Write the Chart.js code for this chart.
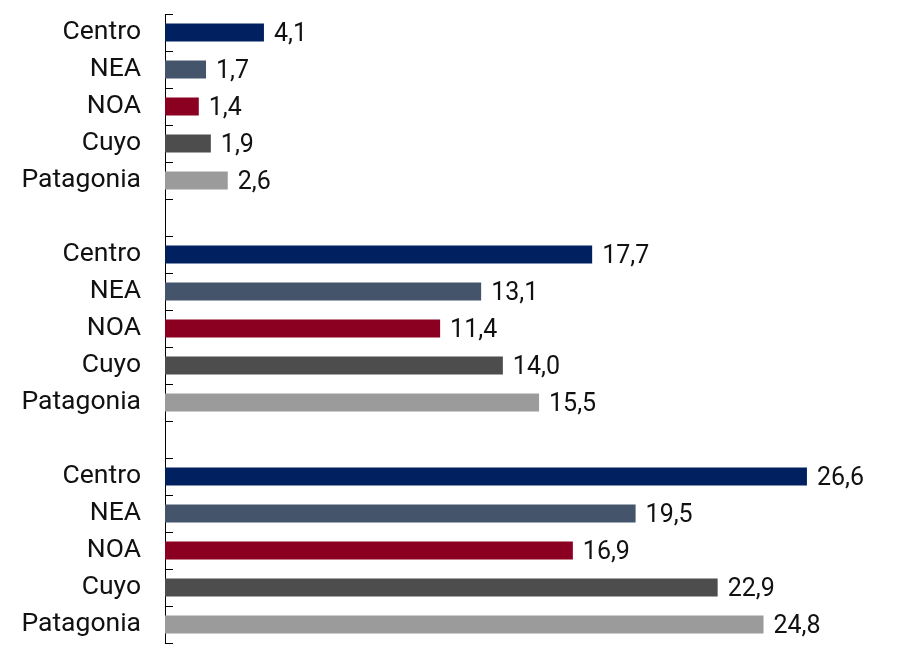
<!DOCTYPE html>
<html>
<head>
<meta charset="utf-8">
<script src="https://cdn.jsdelivr.net/npm/chart.js@4"></script>
<style>
  html, body { margin: 0; padding: 0; background: #fff; }
  #wrap { width: 909px; height: 659px; }
</style>
</head>
<body>
<div id="wrap"><canvas id="myChart"></canvas></div>
<script>
// regions repeated in each block, blank row between blocks
const regions = ['Centro', 'NEA', 'NOA', 'Cuyo', 'Patagonia'];
const regionColors = ['#002060', '#44546A', '#8B0020', '#4D4D4D', '#9B9B9B'];
const block1 = [4.1, 1.7, 1.4, 1.9, 2.6];
const block2 = [17.7, 13.1, 11.4, 14.0, 15.5];
const block3 = [26.6, 19.5, 16.9, 22.9, 24.8];
const xMax = 30;

let labels = [];
let values = [];
let colors = [];
[block1, block2, block3].forEach((block, b) => {
    if (b > 0) {
        labels.push('');
        values.push(null);
        colors.push('rgba(0,0,0,0)');
    }
    block.forEach((v, i) => {
        labels.push(regions[i]);
        values.push(v);
        colors.push(regionColors[i]);
    });
});

const fontFamily = 'Roboto, "Noto Sans", sans-serif';

// value labels at the end of each bar
const valueLabels = {
    id: 'valueLabels',
    afterDatasetsDraw(chart) {
        const ctx = chart.ctx;
        const meta = chart.getDatasetMeta(0);
        ctx.save();
        ctx.font = '25px ' + fontFamily;
        ctx.fillStyle = '#111';
        ctx.textAlign = 'left';
        ctx.textBaseline = 'middle';
        meta.data.forEach((bar, i) => {
            const v = values[i];
            if (v === null) return;
            ctx.fillText(v.toFixed(1).replace('.', ','), bar.x + 10, bar.y + 2);
        });
        ctx.restore();
    }
};

let ctx = document.getElementById('myChart').getContext('2d');
let myChart = new Chart(ctx, {
    type: 'bar',
    data: {
        labels: labels,
        datasets: [{
            data: values,
            backgroundColor: colors,
            barPercentage: 0.49,
            categoryPercentage: 1.0
        }]
    },
    options: {
        indexAxis: 'y',
        responsive: true,
        maintainAspectRatio: false,
        animation: false,
        layout: { padding: { top: 14, bottom: 16, left: 0, right: 20 } },
        plugins: {
            legend: { display: false },
            tooltip: { enabled: false }
        },
        scales: {
            x: {
                min: 0,
                max: xMax,
                display: false
            },
            y: {
                afterFit(scale) {
                    scale.width = 165;
                    scale.paddingTop = 0;
                    scale.paddingBottom = 0;
                },
                border: { display: true, color: '#000', width: 1 },
                grid: {
                    offset: true,
                    drawOnChartArea: false,
                    drawTicks: true,
                    tickLength: -8,
                    color: '#000'
                },
                ticks: {
                    padding: 32,
                    color: '#111',
                    font: { family: fontFamily, size: 26.5 }
                }
            }
        }
    },
    plugins: [valueLabels]
});
</script>
</body>
</html>
